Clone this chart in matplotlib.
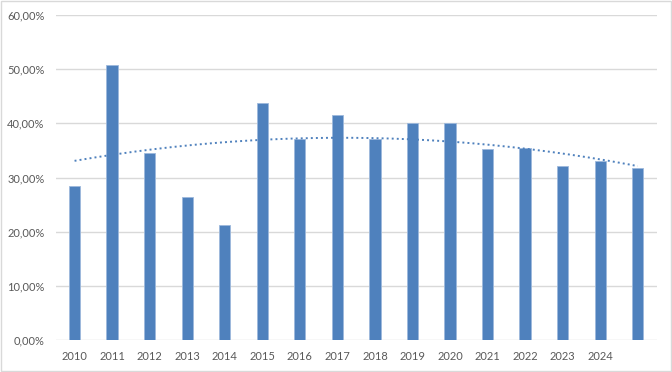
import numpy as np
import matplotlib.pyplot as plt
from matplotlib.ticker import FuncFormatter
from matplotlib.patches import Rectangle

years = ["2010", "2011", "2012", "2013", "2014", "2015", "2016", "2017",
         "2018", "2019", "2020", "2021", "2022", "2023", "2024", ""]
values = [28.5, 50.7, 34.6, 26.4, 21.3, 43.8, 37.2, 41.5,
          37.2, 40.0, 40.0, 35.2, 35.5, 32.1, 33.1, 31.7]

bar_color = "#4F81BD"
text_color = "#595959"

plt.rcParams['font.family'] = ['Lato', 'DejaVu Sans']

fig = plt.figure(figsize=(6.72, 3.72), dpi=100)
ax = fig.add_axes([0.083, 0.085, 0.894, 0.875])

x = np.arange(len(values))
y = np.array(values) / 100
ax.bar(x, y, width=0.3, color=bar_color, edgecolor="#9DB9DC", linewidth=0.6, zorder=3)

# polynomial (order 2) trendline, like the Excel one
coef = np.polyfit(x, y, 2)
xs = np.linspace(x[0], x[-1], 200)
ax.plot(xs, np.polyval(coef, xs), color=bar_color, linewidth=1.4,
        linestyle=(0, (1, 1.6)), zorder=4)

ax.set_ylim(0, 0.6)
ax.set_xlim(-0.5, len(values) - 0.5)
ax.set_yticks(np.arange(0, 0.61, 0.1))
ax.yaxis.set_major_formatter(FuncFormatter(lambda v, p: f"{v*100:.2f}%".replace(".", ",")))
ax.set_xticks(x)
ax.set_xticklabels(years)

ax.grid(axis="y", color="#D9D9D9", linewidth=1, zorder=0)
for s in ax.spines.values():
    s.set_visible(False)
ax.tick_params(axis="both", length=0, colors=text_color, labelsize=8)
ax.tick_params(axis="y", pad=8)
ax.tick_params(axis="x", pad=8)

fig.patches.append(Rectangle((0.001, 0.002), 0.997, 0.995, transform=fig.transFigure,
                             fill=False, edgecolor="#D9D9D9", linewidth=1))

fig.savefig("out.png", dpi=100)
